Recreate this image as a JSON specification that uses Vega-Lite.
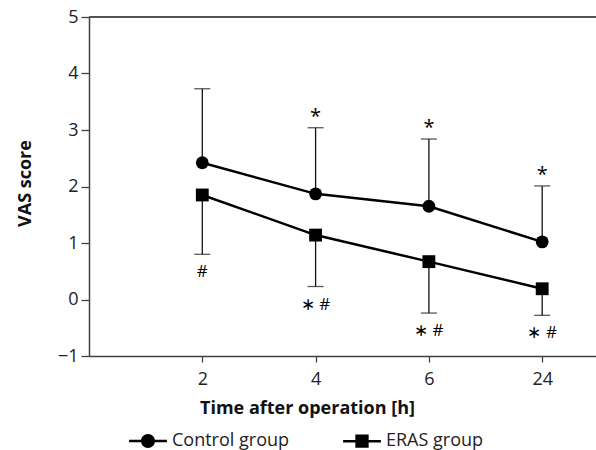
{
  "$schema": "https://vega.github.io/schema/vega-lite/v6.json",
  "width": 507,
  "height": 339,
  "autosize": {"type": "none"},
  "padding": {"left": 89, "top": 17, "right": 0, "bottom": 94},
  "background": "white",
  "config": {
    "font": "Open Sans",
    "view": {"stroke": null},
    "axis": {"grid": false, "domainColor": "#404040", "tickColor": "#404040", "domainWidth": 1.5, "tickWidth": 1.3, "labelColor": "#222", "titleColor": "#111", "labelFontSize": 18, "titleFontSize": 18, "titleFontWeight": "bold", "labelFont": "Open Sans", "titleFont": "Open Sans"}
  },
  "data": {"values": [
    {"time": "2", "group": "Control group", "mean": 2.42, "err": 3.73, "note": ""},
    {"time": "4", "group": "Control group", "mean": 1.87, "err": 3.04, "note": "*"},
    {"time": "6", "group": "Control group", "mean": 1.65, "err": 2.84, "note": "*"},
    {"time": "24", "group": "Control group", "mean": 1.02, "err": 2.01, "note": "*"},
    {"time": "2", "group": "ERAS group", "mean": 1.85, "err": 0.80, "note": "#"},
    {"time": "4", "group": "ERAS group", "mean": 1.14, "err": 0.23, "note": "∗ #"},
    {"time": "6", "group": "ERAS group", "mean": 0.67, "err": -0.24, "note": "∗ #"},
    {"time": "24", "group": "ERAS group", "mean": 0.19, "err": -0.28, "note": "∗ #"}
  ]},
  "encoding": {
    "x": {"field": "time", "type": "ordinal", "sort": ["2", "4", "6", "24"],
      "scale": {"type": "point", "domain": ["2", "4", "6", "24"], "padding": 0.7375, "align": 0.678},
      "axis": {"title": "Time after operation [h]", "labelAngle": 0, "tickSize": 6, "labelPadding": 8, "titleX": 218, "titleY": 57, "titleAlign": "center", "titleBaseline": "alphabetic"}}
  },
  "layer": [
    {"mark": {"type": "rule", "color": "#555", "strokeWidth": 1.5}, "encoding": {"x": null, "y": {"datum": 5, "type": "quantitative"}}},
    {"mark": {"type": "rule", "color": "#111", "strokeWidth": 1.3},
      "encoding": {
        "y": {"field": "mean", "type": "quantitative", "scale": {"domain": [-1, 5], "nice": false, "zero": false},
          "axis": {"title": "VAS score", "values": [-1, 0, 1, 2, 3, 4, 5], "format": "d", "tickSize": 8, "labelPadding": 3, "titleX": -59, "titleY": 166, "titleAngle": -90, "titleAlign": "center", "titleBaseline": "alphabetic"}},
        "y2": {"field": "err"}
      }},
    {"mark": {"type": "tick", "color": "#111", "thickness": 1.3, "size": 16, "orient": "horizontal"},
      "encoding": {"y": {"field": "err", "type": "quantitative"}}},
    {"mark": {"type": "line", "color": "#000", "strokeWidth": 2.5},
      "encoding": {"y": {"field": "mean", "type": "quantitative"}, "detail": {"field": "group"}}},
    {"transform": [{"filter": "datum.group === 'Control group'"}],
      "mark": {"type": "point", "filled": true, "color": "#000", "opacity": 1, "size": 165, "shape": "circle"},
      "encoding": {"y": {"field": "mean", "type": "quantitative"}}},
    {"transform": [{"filter": "datum.group === 'ERAS group'"}],
      "mark": {"type": "point", "filled": true, "color": "#000", "opacity": 1, "size": 165, "shape": "square"},
      "encoding": {"y": {"field": "mean", "type": "quantitative"}}},
    {"mark": {"type": "point", "filled": true, "color": "#000", "opacity": 0, "size": 196},
      "encoding": {"y": {"field": "mean", "type": "quantitative"},
        "shape": {"field": "group", "type": "nominal",
          "scale": {"domain": ["Control group", "ERAS group"], "range": ["M-2.7,-0.18H2.7V0.18H-2.7ZM1,0A1,1 0 1,1 -1,0A1,1 0 1,1 1,0Z", "M-2.7,-0.18H2.7V0.18H-2.7ZM-0.95,-0.95H0.95V0.95H-0.95Z"]},
          "legend": {"title": null, "orient": "none", "direction": "horizontal", "legendX": 50, "legendY": 415, "padding": 0,
            "symbolSize": 196, "labelOffset": 15, "columnPadding": 50, "labelFontSize": 18, "labelFont": "Open Sans", "labelColor": "#222",
            "symbolFillColor": "#000", "symbolOpacity": 1,
            "encode": {"symbols": {"update": {"opacity": {"value": 1}, "fill": {"value": "#000"}}}}}}}},
    {"transform": [{"filter": "datum.group === 'Control group'"}],
      "mark": {"type": "text", "fontSize": 20, "color": "#000", "baseline": "alphabetic", "dy": -5},
      "encoding": {"y": {"field": "err", "type": "quantitative"}, "text": {"field": "note"}}},
    {"transform": [{"filter": "datum.group === 'ERAS group'"}],
      "mark": {"type": "text", "fontSize": 17, "color": "#000", "baseline": "middle", "dy": 18},
      "encoding": {"y": {"field": "err", "type": "quantitative"}, "text": {"field": "note"}}}
  ]
}
